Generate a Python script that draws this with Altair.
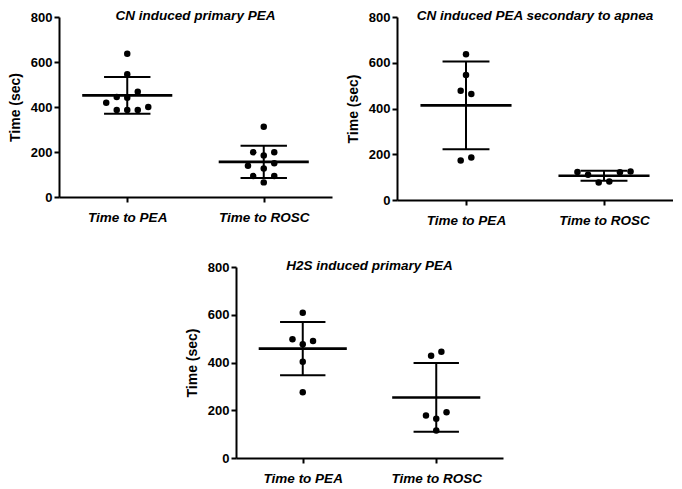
import altair as alt
import pandas as pd

# ---- data ----
groups = ["Time to PEA", "Time to ROSC"]
titles = ["CN induced primary PEA",
          "CN induced PEA secondary to apnea",
          "H2S induced primary PEA"]

cn_primary_pea = [637, 546, 468, 444, 441, 419, 400, 387, 387, 387]
cn_primary_pea_jitter = [0, 0, 1, -1, 0, -2, 2, -1, 0, 1]
cn_primary_rosc = [312, 199, 199, 185, 139, 150, 127, 93, 93, 65]
cn_primary_rosc_jitter = [0, -1, 1, 0, -1.5, 1, 0, -1, 1, 0]

cn_apnea_pea = [637, 546, 478, 463, 173, 186]
cn_apnea_pea_jitter = [0, 0, -0.5, 0.5, -0.5, 0.5]
cn_apnea_rosc = [122, 110, 77, 81, 121, 125]
cn_apnea_rosc_jitter = [-2.5, -1.5, -0.5, 0.5, 1.5, 2.5]

h2s_primary_pea = [608, 497, 490, 476, 403, 275]
h2s_primary_pea_jitter = [0, -1, 1, 0, 0, 0]
h2s_primary_rosc = [428, 445, 178, 192, 164, 115]
h2s_primary_rosc_jitter = [-0.5, 0.5, -1, 1, 0, 0]

FONT = "Liberation Sans"


def panel(title, pea, pea_j, rosc, rosc_j, w, h):
    df = pd.DataFrame({
        "group": [0] * len(pea) + [1] * len(rosc),
        "value": pea + rosc,
        "slot": pea_j + rosc_j,
    })
    xs = alt.Scale(domain=[0, 2], nice=False, zero=False)
    ys = alt.Scale(domain=[0, 800], nice=False)
    label_expr = "datum.value < 1 ? '%s' : '%s'" % (groups[0], groups[1])
    xaxis = alt.Axis(values=[0.5, 1.5], labelExpr=label_expr, title=None,
                     grid=False, labelFontStyle="italic", labelPadding=8,
                     labelFontSize=13.5)
    yaxis = alt.Axis(values=[0, 200, 400, 600, 800], title="Time (sec)",
                     grid=False, labelPadding=2, titlePadding=8)
    base = alt.Chart(df)
    points = base.transform_calculate(
        px="datum.group + 0.5 + datum.slot * 0.077"
    ).mark_circle(size=42, color="black", opacity=1).encode(
        x=alt.X("px:Q", scale=xs, axis=xaxis),
        y=alt.Y("value:Q", scale=ys, axis=yaxis),
    )
    stats = base.transform_aggregate(
        mean="mean(value)", sd="stdev(value)", groupby=["group"]
    ).transform_calculate(
        c="datum.group + 0.5",
        lo="datum.mean - datum.sd",
        hi="datum.mean + datum.sd",
        ml="datum.group + 0.5 - 0.33",
        mr="datum.group + 0.5 + 0.33",
        cl="datum.group + 0.5 - 0.17",
        cr="datum.group + 0.5 + 0.17",
    )
    vert = stats.mark_rule(color="black", strokeWidth=2).encode(
        x=alt.X("c:Q", scale=xs, axis=xaxis),
        y=alt.Y("lo:Q", scale=ys, axis=yaxis), y2="hi:Q")
    cap_hi = stats.mark_rule(color="black", strokeWidth=2).encode(
        x=alt.X("cl:Q", scale=xs, axis=xaxis), x2="cr:Q",
        y=alt.Y("hi:Q", scale=ys, axis=yaxis))
    cap_lo = stats.mark_rule(color="black", strokeWidth=2).encode(
        x=alt.X("cl:Q", scale=xs, axis=xaxis), x2="cr:Q",
        y=alt.Y("lo:Q", scale=ys, axis=yaxis))
    mean_line = stats.mark_rule(color="black", strokeWidth=2.6).encode(
        x=alt.X("ml:Q", scale=xs, axis=xaxis), x2="mr:Q",
        y=alt.Y("mean:Q", scale=ys, axis=yaxis))
    return alt.layer(vert, cap_hi, cap_lo, mean_line, points).properties(
        width=w, height=h,
        title=alt.TitleParams(title, font=FONT, fontSize=13.5,
                              fontStyle="italic", fontWeight="bold",
                              color="black", anchor="middle", frame="group",
                              offset=-11),
    )


p1 = panel(titles[0], cn_primary_pea, cn_primary_pea_jitter,
           cn_primary_rosc, cn_primary_rosc_jitter, 273, 180)
p2 = panel(titles[1], cn_apnea_pea, cn_apnea_pea_jitter,
           cn_apnea_rosc, cn_apnea_rosc_jitter, 276, 183)
p3 = panel(titles[2], h2s_primary_pea, h2s_primary_pea_jitter,
           h2s_primary_rosc, h2s_primary_rosc_jitter, 267, 191)

spacer = alt.Chart(pd.DataFrame({"v": [0]})).mark_point(opacity=0).encode(
    x=alt.value(0), y=alt.value(0)).properties(width=126, height=10)

row1 = alt.hconcat(p1, p2, spacing=14)
row2 = alt.hconcat(spacer, p3, spacing=0)

chart = alt.vconcat(row1, row2, spacing=31).properties(
    padding=0, background="white"
).configure_view(stroke=None).configure_axis(
    domainColor="black", domainWidth=2, tickColor="black", tickWidth=2,
    tickSize=5, labelFont=FONT, labelFontWeight="bold", labelFontSize=13,
    labelColor="black", titleFont=FONT, titleFontWeight="bold",
    titleFontSize=14, titleColor="black"
)

chart.save("out.html", embed_options={"renderer": "svg", "actions": False})
